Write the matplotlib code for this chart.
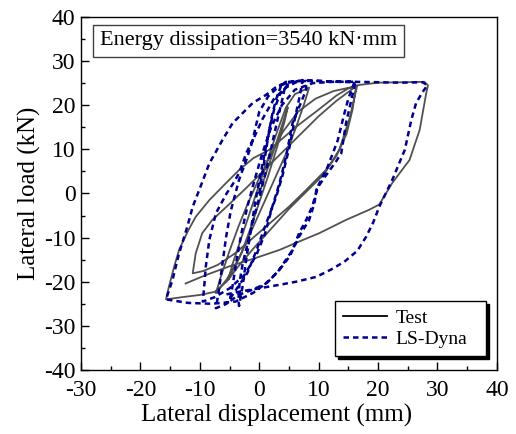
import numpy as np
import matplotlib
matplotlib.use("Agg")
import matplotlib.pyplot as plt
from matplotlib.lines import Line2D

plt.rcParams["font.family"] = ["Liberation Serif", "DejaVu Serif"]
plt.rcParams["axes.unicode_minus"] = False

# test hysteresis (lateral displacement mm, lateral load kN)
test_disp = [0, 1.5, 3, 4.2, 4.8,
             4.2, 3, 1.5, 0, -1.5, -3, -4.5, -5.2,
             -4.5, -3, -1.5, 0, 1.5, 3, 4.5, 6, 8.4,
             7.6, 6.2, 4.5, 2.5, 0.5, -1.5, -3.5, -5.5, -7.3,
             -6.5, -5, -3.5, -2, 0, 2, 4, 6.5, 9.5, 12.5, 16.3,
             15.7, 14.7, 13, 11.2, 7.9, 5, 2, -1, -4, -7, -9.5, -11.2,
             -10.7, -9.6, -7.9, -5.1, -2, 1, 4, 7, 10, 13, 15.5, 16.5,
             15.2, 13.5, 11, 8, 5, 2, -1, -3.5, -5.5, -7.5, -10, -13, -15.7,
             -15.2, -14.3, -13.5, -12, -10.7, -8.4, -6, -3.4, -1, 1.7, 6.2, 10, 13, 15, 16.9, 20, 24, 27.8, 28.4,
             28.1, 27, 25.3, 22.4, 20.2, 18.5, 14.6, 10.1, 6, 3.4, -1, -5, -9, -12.4]
test_load = [0, 6, 12, 17, 19.5,
             16, 10.5, 4, -2, -8, -13.5, -17.5, -19.5,
             -16, -10, -4, 2, 8, 14, 19.5, 22.5, 24,
             20.5, 15, 9, 3, -3, -9, -15, -19.5, -22.6,
             -19, -13, -7.5, -2.5, 3.5, 9, 14, 18.5, 21.5, 23.2, 24.3,
             19, 13.5, 8.5, 5.3, 0.8, -3, -6.5, -10, -13.5, -16.2, -17.6, -18.1,
             -13.6, -9, -6, -2.5, 1.5, 5.5, 9.5, 13.5, 17.5, 21, 23.5, 24.5,
             17, 10, 4.5, 0.5, -3.5, -8, -12.5, -16.5, -20, -22.3, -23, -23.5, -24,
             -21.1, -16.5, -12.8, -8.5, -5.3, -1.5, 1.8, 5.3, 8, 9.9, 15.1, 19, 22.2, 23.8, 24.6, 25.1, 25.2, 25.3, 24.5,
             22.7, 14.4, 7.6, 2.4, -2.5, -3.7, -6, -9, -11.3, -12.8, -14.8, -16.5, -18.5, -20.4]

# LS-Dyna simulation
dyna_disp = [0, 0.7, 1.4, 2.1, 2.8, 3.7, 4.5,
             4, 3.2, 2.3, 1.3, 0.2, -1, -2, -2.8, -3.3, -3.5, -3.4,
             -2.8, -2.2, -1.5, -0.8, 0, 0.9, 1.7, 2.5, 3.5, 5, 7.3,
             6.8, 6, 5.1, 3.9, 2.8, 1.1, -0.5, -2, -4, -5.5, -7.3,
             -6.8, -6.2, -5.6, -4.8, -3.4, -2.2, -1.1, 0.6, 2.5, 4.5, 6.2, 7.9,
             7.9, 5.6, 4.5, 3.4, 2.2, 1, -0.5, -2.5, -5, -7.5, -9.5,
             -9.2, -9, -8.4, -7.3, -5.5, -4.5, -3.4, -2.2, -1.1, -0.6, 0, 1.5, 3.5, 6, 10, 13, 16,
             15, 14.3, 13.2, 11.5, 10, 8.9, 7.9, 6.7, 5.6, 4.5, 3, 1, -1.5, -3.5, -5,
             -4.5, -3.8, -3, -2, -0.8, 0.5, 2, 3.8, 6, 9, 12.5, 16.2,
             15.5, 14.6, 13.8, 12.9, 10.7, 9.6, 9.3, 8.4, 6.7, 5.1, 3.4, 1.5, -1, -4, -8, -12, -15.7,
             -14.6, -13.5, -12.1, -11.2, -10.1, -8.4, -6.2, -4.5, -2.8, -1.1, 1.1, 3, 5, 8, 12, 16, 20, 24, 27.5, 28.3,
             27.5, 26.4, 25.6, 24.5, 22.4, 20.2, 19.2, 18, 16.5, 14.3, 12, 9.6, 6.2, 3.4, 0, -3.5, -6]
dyna_load = [0, 6, 12, 17.4, 21.2, 24.5, 25.3,
             22, 17.5, 12, 6, 0, -6, -11.5, -16, -20, -24, -25.5,
             -21, -15, -9, -3, 3, 9, 14.5, 19, 22.5, 25, 25.7,
             22, 17, 10.6, 4, -1, -7, -13, -18, -22, -25, -26,
             -22, -16, -10, -4, 3.1, 7.5, 12, 17, 21.5, 24, 25.2, 25.5,
             23.5, 15.9, 8.3, 2.3, -3, -9, -14, -18.5, -21.5, -23.5, -24.5,
             -20, -16.6, -10.5, -4.5, 0, 2, 4.6, 9.1, 12.1, 15.1, 18.5, 22, 24.5, 25.5, 25.5, 25.3, 25.2,
             21.5, 18, 12, 6, 2, -3, -6, -9, -12.8, -15, -18, -20.5, -22, -23, -24.5,
             -21, -15, -9, -3, 3, 9, 15, 20, 23.5, 25, 25.3, 25.3,
             21.2, 15.9, 9.1, 7.2, 3.1, 0.8, -2.2, -6, -9.8, -14.3, -17.3, -20, -22.5, -24.5, -25, -24.8, -24,
             -19.6, -13.6, -7.5, -3, 0.8, 6.8, 12.1, 15.9, 18.2, 20.5, 22.3, 24.3, 25.3, 25.6, 25.4, 25.3, 25.2, 25.1, 25.2, 24.5,
             23, 20.5, 16.7, 9.9, 3.1, -3, -6.5, -9.8, -13, -15.5, -17.3, -18.9, -20, -20.7, -21.5, -22.3, -23]

fig, ax = plt.subplots(figsize=(5.16, 4.34), dpi=100)
fig.subplots_adjust(left=0.157, right=0.963, bottom=0.1475, top=0.961)

ax.plot(test_disp, test_load, color="#262626", lw=1.3, alpha=0.8, solid_joinstyle="round")
ax.plot(dyna_disp, dyna_load, color="#000090", lw=1.8, dashes=(2.2, 1.6))

ax.set_xlim(-30, 40)
ax.set_ylim(-40, 40)
ax.set_xticks(np.arange(-30, 41, 10))
ax.set_yticks(np.arange(-40, 41, 10))
ax.set_xticks(np.arange(-25, 40, 10), minor=True)
ax.set_yticks(np.arange(-35, 40, 10), minor=True)
ax.tick_params(which="both", direction="in", top=False, right=False, labelsize=17, width=1)
ax.tick_params(which="major", length=6, pad=4)
ax.tick_params(which="minor", length=3)
ax.tick_params(axis="x", which="major", pad=7)
for s in ax.spines.values():
    s.set_linewidth(1)

ax.set_xlabel("Lateral displacement (mm)", fontsize=18)
ax.xaxis.set_label_coords(0.471, -0.095)
ax.set_ylabel("Lateral load (kN)", fontsize=18, labelpad=2)

ax.text(0.046, 0.932, "Energy dissipation=3540 kN\u00b7mm", transform=ax.transAxes,
        fontsize=16, va="center", ha="left",
        bbox=dict(boxstyle="square,pad=0.3", fc="white", ec="0.25", lw=1))

handles = [Line2D([], [], color="black", lw=1.3),
           Line2D([], [], color="#000090", lw=1.8, dashes=(2.2, 1.6))]
leg = ax.legend(handles, ["Test", "LS-Dyna"], loc="lower left",
                bbox_to_anchor=(0.6106, 0.04, 0.363, 0.15), mode="expand",
                borderaxespad=0, fontsize=14, fancybox=False, edgecolor="black", framealpha=1,
                shadow={"color": "black", "alpha": 1}, handlelength=2.3, labelspacing=0.2,
                handletextpad=0.4, borderpad=0.4)
leg.get_frame().set_linewidth(1)

fig.savefig("out.png", dpi=100)
